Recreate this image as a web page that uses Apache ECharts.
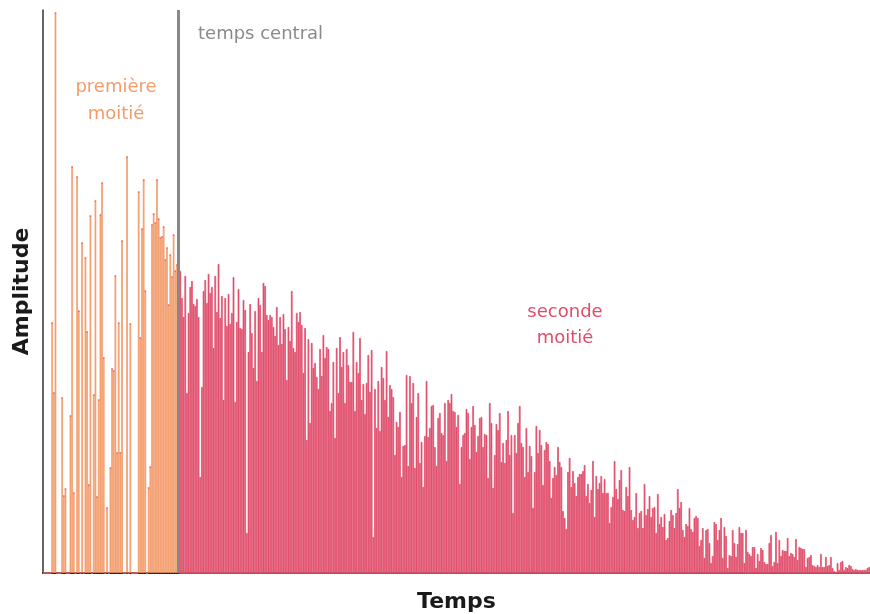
<!DOCTYPE html>
<html><head><meta charset="utf-8">
<script src="https://cdn.jsdelivr.net/npm/echarts@6/dist/echarts.min.js"></script>
<style>html,body{margin:0;padding:0;background:#fff}#c{width:870px;height:614px}</style>
</head><body><div id="c"></div>
<script>
// Amplitudes, first half (before the central time)
var firstHalf = [0,0,0,0,0,250,180,560,0,0,0,175,77,84,0,0,157,406,80,0,396,262,0,330,0,315,241,88,357,0,178,372,76,173,358,390,215,0,65,0,105,204,202,297,120,250,120,332,0,0,416,0,249,0,0,0,0,381,235,344,393,282,0,85,106,348,359,350,393,354,335,336,346,313,325,268,318,296,338,302,308,331];
// Amplitudes, second half (after the central time)
var secondHalf = [
302,275,256,297,180,260,286,292,269,267,274,256,96,186,282,293,270,299,280,286,225,297,261,309,255,277,173,275,247,279,249,260,296,171,251,284,245,244,273,263,40,221,269,240,205,262,192,275,268,221,290,287,258,253,258,256,246,237,266,228,
256,229,259,244,193,246,232,282,225,221,260,251,261,248,200,245,133,234,150,230,205,210,196,184,224,197,238,215,226,224,162,170,211,135,225,180,236,206,221,170,224,208,191,191,241,162,211,200,235,173,189,159,190,218,181,223,36,184,145,192,
142,206,195,173,222,156,188,184,176,118,151,146,161,96,127,128,198,107,197,170,190,105,156,180,110,131,86,137,192,136,145,167,168,126,107,155,160,140,138,170,112,173,170,179,162,161,146,158,89,126,138,140,164,160,114,146,167,148,121,137,155,
156,126,139,138,95,170,150,85,118,149,143,160,111,130,110,133,162,118,138,60,138,120,150,167,130,126,96,145,101,127,117,65,101,147,120,143,128,88,123,131,129,112,75,95,106,98,126,111,106,62,55,44,101,115,86,102,90,77,96,99,
99,102,108,77,89,70,83,112,56,97,84,90,97,80,94,80,80,50,66,76,112,84,74,93,103,63,62,86,77,106,63,53,56,80,45,60,62,45,89,58,64,77,56,65,66,40,79,49,56,46,59,33,35,52,63,58,45,60,84,65,
71,43,36,49,47,65,44,41,55,57,55,27,33,45,15,43,44,30,10,17,51,49,33,43,55,15,46,37,5,18,17,43,30,16,29,46,40,40,10,43,21,19,17,26,26,5,19,12,25,23,11,9,9,30,38,7,11,41,10,33,
17,23,22,22,35,17,20,19,16,34,13,26,25,24,24,6,15,16,18,8,7,6,8,6,19,6,6,16,7,8,16,5,2,1,10,3,11,12,3,6,5,8,7,4,3,4,3,3,3,3,3,3,5,6];

var centralIndex = firstHalf.length - 1;
var total = firstHalf.length + secondHalf.length;
var categories = [];
for (var i = 0; i < total; i++) categories.push(String(i));
var firstData = firstHalf.concat(secondHalf.map(function(){return 0;}));
var secondData = firstHalf.map(function(){return 0;}).concat(secondHalf);

var FONT = '"DejaVu Sans", sans-serif';
var ORANGE = '#F39C6B', RED = '#E04C6A';
var chart = echarts.init(document.getElementById('c'), null, {renderer:'canvas'});
chart.setOption({
  animation: false,
  grid: {left: 43, right: 0, top: 10, bottom: 41, containLabel: false, outerBoundsMode: 'none'},
  xAxis: {
    type: 'category', data: categories,
    name: 'Temps', nameLocation: 'middle', nameGap: 18,
    nameTextStyle: {fontFamily: FONT, fontWeight: 'bold', fontSize: 22, color: '#1a1a1a'},
    axisLine: {lineStyle: {color: '#222', width: 2}},
    axisTick: {show: false}, axisLabel: {show: false}
  },
  yAxis: {
    type: 'value', min: 0, max: 563,
    name: 'Amplitude', nameLocation: 'middle', nameGap: 10, nameRotate: 90,
    nameTextStyle: {fontFamily: FONT, fontWeight: 'bold', fontSize: 22, color: '#1a1a1a'},
    axisLine: {show: true, lineStyle: {color: '#333', width: 1.5}},
    axisTick: {show: false}, axisLabel: {show: false}, splitLine: {show: false}
  },
  series: [
    {type: 'bar', stack: 'a', data: firstData, barCategoryGap: 0,
     itemStyle: {color: ORANGE, borderColor: ORANGE, borderWidth: 0.7},
     markLine: {symbol: 'none', silent: true, label: {show: false},
       lineStyle: {color: '#888', width: 3, type: 'solid'},
       data: [{xAxis: String(centralIndex)}]}},
    {type: 'bar', stack: 'a', data: secondData, barCategoryGap: 0,
     itemStyle: {color: RED, borderColor: RED, borderWidth: 0.7}}
  ],
  graphic: [
    {type: 'text', x: 198, y: 34, style: {text: 'temps central', font: '18px ' + FONT, fill: '#8a8a8a', textVerticalAlign: 'middle'}},
    {type: 'text', x: 116, y: 101, style: {text: 'première\nmoitié', font: '18px ' + FONT, fill: ORANGE, textAlign: 'center', textVerticalAlign: 'middle', lineHeight: 27}},
    {type: 'text', x: 565, y: 325, style: {text: 'seconde\nmoitié', font: '18px ' + FONT, fill: RED, textAlign: 'center', textVerticalAlign: 'middle', lineHeight: 26}}
  ]
});
</script></body></html>
